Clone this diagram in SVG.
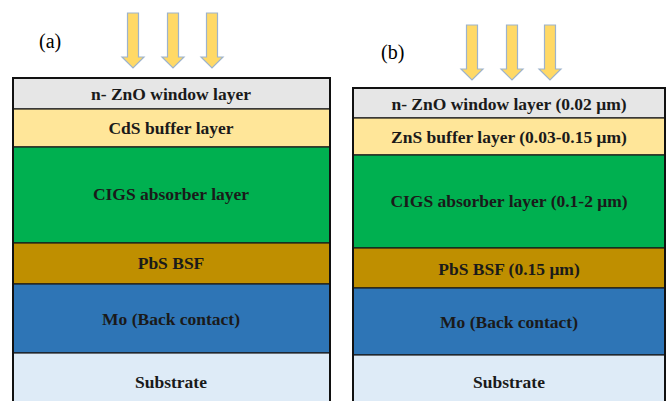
<svg xmlns="http://www.w3.org/2000/svg" width="668" height="401" viewBox="0 0 668 401">
<style>
.t{font-family:"Liberation Serif",serif;font-weight:bold;font-size:17.5px;fill:#1a1a1a;text-anchor:middle}
.lab{font-family:"Liberation Serif",serif;font-size:20px;fill:#000}
.ly{stroke:#1a1a1a;stroke-width:1.2}
.box{fill:none;stroke:#111;stroke-width:2}
.arr{fill:#FFD966;stroke:#9DB3CC;stroke-width:1.2}
</style>
<defs>
<path id="arrow" d="M-5.5,0 H5.5 V44 H11 L0,55 L-11,44 H-5.5 Z"/>
</defs>
<rect width="668" height="401" fill="#fff"/>
<g id="panel-a">
<text class="lab" x="39" y="48">(a)</text>
<g id="arrows-a">
<use href="#arrow" class="arr" x="133" y="13"/>
<use href="#arrow" class="arr" x="173" y="13"/>
<use href="#arrow" class="arr" x="212" y="13"/>
</g>
<g id="a-zno"><rect class="ly" x="13" y="78" width="317" height="31" fill="#E6E6E6"/><text class="t" x="171" y="100">n- ZnO window layer</text></g>
<g id="a-cds"><rect class="ly" x="13" y="109" width="317" height="38" fill="#FFE699"/><text class="t" x="171" y="134">CdS buffer layer</text></g>
<g id="a-cigs"><rect class="ly" x="13" y="147" width="317" height="96" fill="#00B050"/><text class="t" x="171" y="200">CIGS absorber layer</text></g>
<g id="a-pbs"><rect class="ly" x="13" y="243" width="317" height="41" fill="#BF8F00"/><text class="t" x="171" y="269">PbS BSF</text></g>
<g id="a-mo"><rect class="ly" x="13" y="284" width="317" height="69" fill="#2E75B6"/><text class="t" x="171" y="325">Mo (Back contact)</text></g>
<g id="a-sub"><rect class="ly" x="13" y="353" width="317" height="50" fill="#DEEBF7"/><text class="t" x="171" y="388">Substrate</text></g>
<rect class="box" x="13" y="78" width="317" height="330"/>
</g>
<g id="panel-b">
<text class="lab" x="381" y="59">(b)</text>
<g id="arrows-b">
<use href="#arrow" class="arr" x="472" y="25"/>
<use href="#arrow" class="arr" x="512" y="25"/>
<use href="#arrow" class="arr" x="550" y="25"/>
</g>
<g id="b-zno"><rect class="ly" x="353" y="88" width="312" height="30" fill="#E6E6E6"/><text class="t" x="509" y="110">n- ZnO window layer (0.02 μm)</text></g>
<g id="b-zns"><rect class="ly" x="353" y="118" width="312" height="37" fill="#FFE699"/><text class="t" x="509" y="143">ZnS buffer layer (0.03-0.15 μm)</text></g>
<g id="b-cigs"><rect class="ly" x="353" y="155" width="312" height="93" fill="#00B050"/><text class="t" x="509" y="207">CIGS absorber layer (0.1-2 μm)</text></g>
<g id="b-pbs"><rect class="ly" x="353" y="248" width="312" height="40" fill="#BF8F00"/><text class="t" x="509" y="275">PbS BSF (0.15 μm)</text></g>
<g id="b-mo"><rect class="ly" x="353" y="288" width="312" height="67" fill="#2E75B6"/><text class="t" x="509" y="328">Mo (Back contact)</text></g>
<g id="b-sub"><rect class="ly" x="353" y="355" width="312" height="50" fill="#DEEBF7"/><text class="t" x="509" y="388">Substrate</text></g>
<rect class="box" x="353" y="88" width="312" height="320"/>
</g>
</svg>
